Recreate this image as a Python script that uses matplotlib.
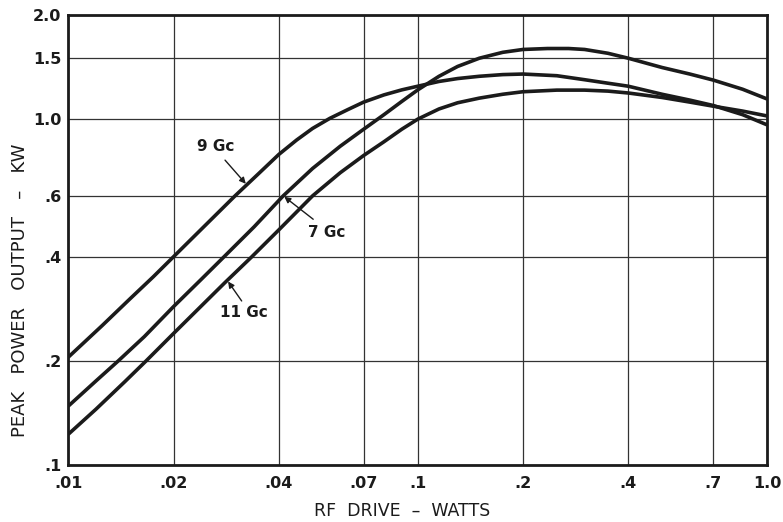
import numpy as np
import matplotlib
matplotlib.use("Agg")
import matplotlib.pyplot as plt
from matplotlib.ticker import NullLocator

# RF drive (W) vs. peak power output (kW) for three frequencies
drive_9gc = [0.010, 0.0125, 0.015, 0.0175, 0.020, 0.025, 0.030, 0.035, 0.040,
             0.045, 0.050, 0.056, 0.063, 0.070, 0.080, 0.090, 0.100, 0.115,
             0.130, 0.150, 0.175, 0.200, 0.250, 0.300, 0.350, 0.400, 0.500,
             0.600, 0.700, 0.850, 1.000]
power_9gc = [0.205, 0.253, 0.302, 0.350, 0.400, 0.500, 0.600, 0.695, 0.790,
             0.870, 0.940, 1.005, 1.065, 1.120, 1.175, 1.215, 1.245, 1.285,
             1.310, 1.330, 1.345, 1.350, 1.335, 1.300, 1.270, 1.245, 1.180,
             1.135, 1.095, 1.030, 0.962]

drive_7gc = [0.010, 0.012, 0.0139, 0.0165, 0.020, 0.024, 0.0279, 0.034, 0.0412,
             0.050, 0.060, 0.070, 0.080, 0.090, 0.100, 0.115, 0.130, 0.150,
             0.175, 0.200, 0.235, 0.270, 0.300, 0.350, 0.400, 0.500, 0.600,
             0.700, 0.850, 1.000]
power_7gc = [0.148, 0.175, 0.200, 0.235, 0.287, 0.344, 0.400, 0.488, 0.600,
             0.720, 0.835, 0.935, 1.030, 1.125, 1.215, 1.330, 1.420, 1.500,
             1.560, 1.590, 1.600, 1.600, 1.590, 1.550, 1.500, 1.410, 1.350,
             1.297, 1.220, 1.143]

drive_11gc = [0.010, 0.012, 0.0145, 0.0167, 0.020, 0.0235, 0.028, 0.0335, 0.040,
              0.050, 0.060, 0.070, 0.080, 0.090, 0.100, 0.115, 0.130, 0.150,
              0.175, 0.200, 0.250, 0.300, 0.350, 0.400, 0.500, 0.600, 0.700,
              0.850, 1.000]
power_11gc = [0.1227, 0.145, 0.174, 0.200, 0.240, 0.282, 0.336, 0.400, 0.478,
              0.600, 0.700, 0.785, 0.860, 0.935, 1.000, 1.070, 1.115, 1.150,
              1.180, 1.200, 1.213, 1.213, 1.205, 1.190, 1.155, 1.120, 1.090,
              1.055, 1.021]

x_ticks = [0.01, 0.02, 0.04, 0.07, 0.1, 0.2, 0.4, 0.7, 1.0]
x_tick_labels = [".01", ".02", ".04", ".07", ".1", ".2", ".4", ".7", "1.0"]
y_ticks = [0.1, 0.2, 0.4, 0.6, 1.0, 1.5, 2.0]
y_tick_labels = [".1", ".2", ".4", ".6", "1.0", "1.5", "2.0"]

INK = "#1b1b1b"
FONT = "DejaVu Sans"

W, H = 783, 522
fig = plt.figure(figsize=(W / 100, H / 100), dpi=100)
fig.patch.set_facecolor("white")
ax = fig.add_axes([68.3 / W, 1 - 465 / H, 699 / W, 450 / H])
ax.set_xscale("log")
ax.set_yscale("log")
ax.set_xlim(0.01, 1.0)
ax.set_ylim(0.1, 2.0)

ax.set_xticks(x_ticks, x_tick_labels)
ax.set_yticks(y_ticks, y_tick_labels)
ax.xaxis.set_minor_locator(NullLocator())
ax.yaxis.set_minor_locator(NullLocator())
ax.tick_params(length=0, labelsize=11.5, colors=INK)
ax.tick_params(axis="x", pad=8)
ax.tick_params(axis="y", pad=5)
for lab in ax.get_xticklabels() + ax.get_yticklabels():
    lab.set_fontweight("bold")
    lab.set_family(FONT)

ax.grid(True, which="major", color="#333333", lw=0.9)
ax.set_axisbelow(True)
for sp in ax.spines.values():
    sp.set_color(INK)
    sp.set_linewidth(2.0)

series = [(drive_9gc, power_9gc), (drive_7gc, power_7gc), (drive_11gc, power_11gc)]
for xs, ys in series:
    ax.plot(xs, ys, color=INK, lw=2.6, solid_capstyle="butt", solid_joinstyle="round")


def on_curve(xs, ys, x):
    return 10 ** np.interp(np.log10(x), np.log10(xs), np.log10(ys))


def px(v):
    return v * 72 / 100


labels = [
    ("9 Gc", drive_9gc, power_9gc, 0.0324, (-21.7, 24.7), (-30.7, 38.7)),
    ("7 Gc", drive_7gc, power_7gc, 0.0412, (30.0, -23.4), (43.4, -36.7)),
    ("11 Gc", drive_11gc, power_11gc, 0.0285, (14.4, -20.6), (16.7, -32.3)),
]
for text, xs, ys, xt, tail, tpos in labels:
    tip = (xt, on_curve(xs, ys, xt))
    ax.annotate("", xy=tip, xytext=(px(tail[0]), px(tail[1])),
                textcoords="offset points",
                arrowprops=dict(arrowstyle="-|>", color=INK, lw=1.0,
                                mutation_scale=9, shrinkA=0, shrinkB=1))
    ax.annotate(text, xy=tip, xytext=(px(tpos[0]), px(tpos[1])),
                textcoords="offset points", ha="center", va="center",
                fontsize=11, fontweight="bold", family=FONT, color=INK)

fig.text(402 / W, 1 - 511 / H, "RF  DRIVE  –  WATTS", ha="center", va="center",
         fontsize=12.5, family=FONT, color=INK)
fig.text(20 / W, 1 - 290 / H, "PEAK   POWER   OUTPUT   –   KW", ha="center",
         va="center", rotation=90, fontsize=13, family=FONT, color=INK)

fig.savefig("out.png", dpi=100, facecolor="white")
